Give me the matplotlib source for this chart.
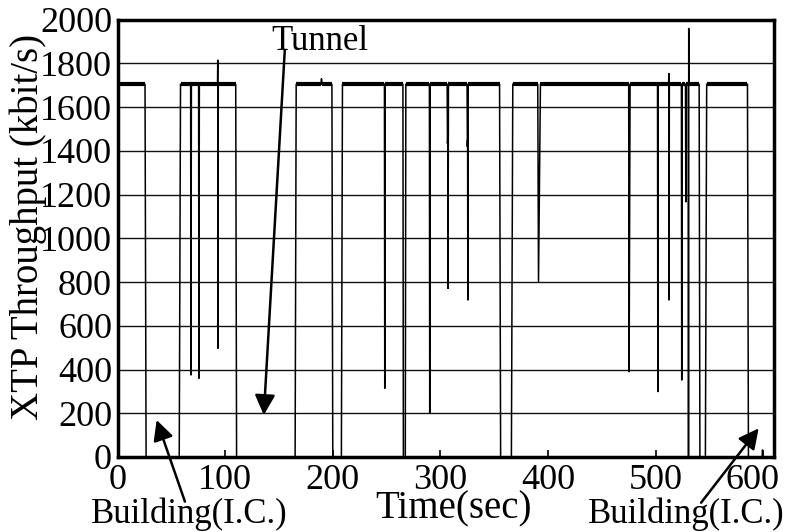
import matplotlib.pyplot as plt
import matplotlib.transforms as mtransforms
import numpy as np

plt.rcParams['font.family'] = ['Liberation Serif', 'DejaVu Serif']

# XTP throughput trace, breakpoints (sec, kbit/s)
time_sec = [0.0, 0.8, 25.5, 26.5, 57.3, 58.5, 67.9, 68.2, 68.6,
            75.3, 75.6, 76.0, 92.9, 93.1, 93.3, 93.6, 109.8, 110.6,
            165.0, 166.0, 189.2, 189.5, 189.9, 199.2, 200.0, 208.0, 209.0,
            248.0, 248.3, 248.7, 265.2, 265.6, 267.4, 267.9,
            289.8, 290.1, 290.5, 306.3, 306.6, 306.9, 307.1, 307.5,
            324.8, 325.1, 325.3, 325.5, 325.9, 355.0, 356.0, 366.0, 367.3,
            390.5, 391.2, 393.0, 475.0, 475.4, 476.3,
            501.8, 502.1, 502.5, 512.1, 512.3, 512.5, 512.8,
            524.0, 524.3, 524.7, 527.8, 528.1, 528.5,
            530.4, 530.6, 530.8, 531.2, 540.5, 541.2, 546.3, 547.5,
            585.4, 586.3, 599.0, 599.4, 599.8, 605.0]
throughput = [500, 1705, 1705, 0, 0, 1705, 1705, 375, 1705,
              1705, 360, 1705, 1705, 1815, 497, 1705, 1705, 0,
              0, 1705, 1705, 1730, 1705, 1705, 0, 0, 1705,
              1705, 314, 1705, 1705, 0, 0, 1705,
              1705, 200, 1705, 1705, 1434, 1460, 771, 1705,
              1705, 1420, 1450, 718, 1705, 1705, 0, 0, 1705,
              1705, 802, 1705, 1705, 390, 1705,
              1705, 299, 1705, 1705, 1754, 718, 1705,
              1705, 352, 1705, 1705, 1167, 1705,
              1705, 0, 1960, 1705, 1705, 0, 0, 1705,
              1705, 0, 0, 32, 0, 0]

x_ticks = list(range(0, 601, 100))
y_ticks = list(range(0, 2001, 200))

fig = plt.figure(figsize=(7.87, 5.32), dpi=100)
ax = fig.add_axes([0.1494, 0.141, 0.834, 0.822])

ax.plot(time_sec, throughput, color='black', lw=1.1)

# the steady-rate stretches look heavier (noisy trace)
t = np.array(time_sec)
v = np.array(throughput)
flat = (v[:-1] >= 1650) & (v[1:] >= 1650) & (np.diff(t) > 1)
for i in np.where(flat)[0]:
    ax.plot(t[i:i + 2], v[i:i + 2], color='black', lw=3.0,
            solid_capstyle='butt')

ax.set_xlim(0, 610)
ax.set_ylim(0, 2000)
ax.set_xticks(x_ticks)
ax.set_yticks(y_ticks)
ax.tick_params(axis='both', labelsize=26, direction='in')
ax.tick_params(axis='x', length=5, width=1.2, pad=5)
ax.tick_params(axis='y', length=0, pad=4)
ax.yaxis.grid(True, color='#111111', lw=1.0)

# pull the last x label in a bit so it stays on the figure
last = ax.get_xticklabels()[-1]
last.set_transform(last.get_transform() +
                   mtransforms.ScaledTranslation(-8 / 72, 0, fig.dpi_scale_trans))

for s in ax.spines.values():
    s.set_linewidth(2.5)

ax.set_ylabel('XTP Throughput (kbit/s)', fontsize=28)
ax.yaxis.set_label_coords(-0.108, 0.526)
ax.set_xlabel('Time(sec)', fontsize=28)
ax.xaxis.set_label_coords(0.5125, -0.076)

arrow = dict(arrowstyle='-|>,head_length=0.87,head_width=0.44',
             mutation_scale=14, color='black', lw=1.8,
             shrinkA=0, shrinkB=0)

ax.text(188.4, 1861, 'Tunnel', fontsize=25, ha='center', va='baseline')
ax.annotate('', xy=(135.9, 192), xytext=(155.4, 1861), arrowprops=arrow)

ax.text(66.7, -302, 'Building(I.C.)', fontsize=25, ha='center',
        va='baseline', clip_on=False)
ax.annotate('', xy=(36.3, 169), xytext=(62.6, -204), arrowprops=arrow,
            annotation_clip=False)

ax.text(528.2, -302, 'Building(I.C.)', fontsize=25, ha='center',
        va='baseline', clip_on=False)
ax.annotate('', xy=(595.8, 131), xytext=(542.3, -209), arrowprops=arrow,
            annotation_clip=False)

fig.savefig('out.png', dpi=100)
